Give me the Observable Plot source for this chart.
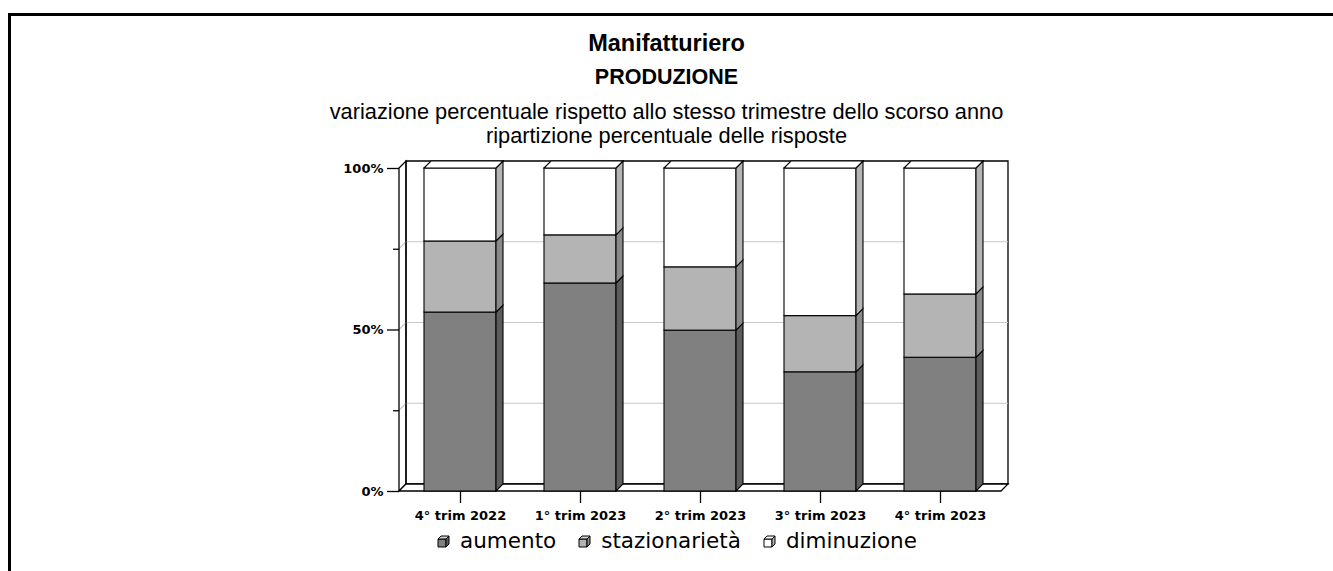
<!DOCTYPE html>
<html><head><meta charset="utf-8">
<script src="https://cdn.jsdelivr.net/npm/d3@7"></script>
<script src="https://cdn.jsdelivr.net/npm/@observablehq/plot@0.6"></script>
<style>
html,body{margin:0;padding:0;background:#fff;overflow:hidden;}
body{width:1333px;height:571px;position:relative;}
#frame{position:absolute;left:8px;top:13px;width:2000px;height:900px;border-left:3px solid #000;border-top:3px solid #000;box-sizing:border-box;}
.t{position:absolute;left:0;width:1333px;text-align:center;font-family:"Liberation Sans",Arial,sans-serif;color:#000;white-space:nowrap;}
#t1{top:29px;font-size:23.5px;line-height:28px;font-weight:bold;}
#t2{top:64px;font-size:21.5px;line-height:26px;font-weight:bold;}
#t3{top:100px;font-size:21.8px;line-height:24px;}
#t4{top:124px;font-size:21.8px;line-height:24px;}
#chart{position:absolute;left:0;top:150px;}
#legend{position:absolute;left:0;top:529px;width:1354px;display:flex;justify-content:center;align-items:center;font-family:"DejaVu Sans",sans-serif;font-size:21.5px;line-height:24px;color:#000;}
#legend .item{display:flex;align-items:center;margin:0 11px;}
#legend svg{margin-right:10px;}
</style>
</head>
<body>
<div id="frame"></div>
<div class="t" id="t1">Manifatturiero</div>
<div class="t" id="t2">PRODUZIONE</div>
<div class="t" id="t3">variazione percentuale rispetto allo stesso trimestre dello scorso anno</div>
<div class="t" id="t4">ripartizione percentuale delle risposte</div>
<div id="chart"></div>
<div id="legend"></div>
<script>
// ---- data ----
const periods = ["4° trim 2022", "1° trim 2023", "2° trim 2023", "3° trim 2023", "4° trim 2023"];
const series = ["aumento", "stazionarietà", "diminuzione"];
const aumento = [55.4, 64.4, 49.8, 36.9, 41.4];
const stazionarieta = [22.0, 14.9, 19.6, 17.4, 19.6];
const diminuzione = [22.6, 20.7, 30.6, 45.7, 39.0];
const yTicks = [0, 50, 100];
const yMinorTicks = [25, 75];
const gridValues = [25, 50, 75];
const colors = ["#808080", "#b4b4b4", "#ffffff"];
const sideColors = ["#5c5c5c", "#8a8a8a", "#b4b4b4"];

// ---- table (stacked) ----
const values = [aumento, stazionarieta, diminuzione];
const rows = [];
periods.forEach((p, i) => {
  let acc = 0;
  series.forEach((s, j) => {
    const v = values[j][i];
    rows.push({period: p, series: s, si: j, value: v, y0: acc, y1: acc + v});
    acc += v;
  });
});

const DX = 7, DY = 7;
const svgNS = "http://www.w3.org/2000/svg";
function poly(g, pts, fill, stroke, sw) {
  const el = document.createElementNS(svgNS, "polygon");
  el.setAttribute("points", pts.map(p => p.join(",")).join(" "));
  el.setAttribute("fill", fill);
  el.setAttribute("stroke", stroke);
  el.setAttribute("stroke-width", sw || 1);
  el.setAttribute("stroke-linejoin", "miter");
  g.appendChild(el);
  return el;
}
function line(g, x1, y1, x2, y2, stroke, sw) {
  const el = document.createElementNS(svgNS, "line");
  el.setAttribute("x1", x1); el.setAttribute("y1", y1);
  el.setAttribute("x2", x2); el.setAttribute("y2", y2);
  el.setAttribute("stroke", stroke);
  el.setAttribute("stroke-width", sw || 1);
  g.appendChild(el);
}

// walls + floor (3D box), drawn from scales
function walls(index, scales, vals, dim) {
  const g = document.createElementNS(svgNS, "g");
  const y = scales.y;
  const L = dim.marginLeft, R = dim.width - dim.marginRight;
  const T = y(100), B = y(0);
  poly(g, [[L + DX, T - DY], [R + DX, T - DY], [R + DX, B - DY], [L + DX, B - DY]], "#fff", "#000", 1.3);
  for (const v of gridValues) {
    line(g, L + DX, y(v) - DY, R + DX, y(v) - DY, "#c8c8c8", 1.2);
    line(g, L, y(v), L + DX, y(v) - DY, "#c8c8c8", 1.2);
  }
  poly(g, [[L, T], [L + DX, T - DY], [L + DX, B - DY], [L, B]], "none", "#000", 1.3);
  poly(g, [[L, B], [R, B], [R + DX, B - DY], [L + DX, B - DY]], "#fff", "#000", 1.3);
  return g;
}

// side and top faces of the stacked bars
function faces(index, scales, vals, dim) {
  const g = document.createElementNS(svgNS, "g");
  const x = scales.x, y = scales.y;
  const bw = x.bandwidth();
  for (const r of rows) {
    const xl = x(r.period), xr = xl + bw;
    const ya = y(r.y0), yb = y(r.y1);
    poly(g, [[xr, ya], [xr + DX, ya - DY], [xr + DX, yb - DY], [xr, yb]], sideColors[r.si], "#000", 1.1);
    if (r.si === series.length - 1) {
      poly(g, [[xl, yb], [xl + DX, yb - DY], [xr + DX, yb - DY], [xr, yb]], "#fff", "#000", 1.1);
    }
  }
  return g;
}

const chart = Plot.plot({
  width: 1333,
  height: 381,
  marginLeft: 399,
  marginRight: 332,
  marginTop: 18,
  marginBottom: 40,
  x: {domain: periods, paddingInner: 0.4, paddingOuter: 0.2, axis: null},
  y: {domain: [0, 100], axis: null},
  color: {domain: series, range: colors},
  style: {background: "transparent", color: "#000", fontFamily: "DejaVu Sans, sans-serif"},
  marks: [
    walls,
    Plot.barY(rows, {x: "period", y1: "y0", y2: "y1", fill: "series", stroke: "#000", strokeWidth: 1.1}),
    faces,
    Plot.axisY({ticks: yTicks, tickSize: 12, tickPadding: 4, tickFormat: d => d + "%", fontSize: 13, fontWeight: "bold", label: null, strokeWidth: 1.3}),
    Plot.axisY({ticks: yMinorTicks, tickSize: 6, tickFormat: () => "", label: null, strokeWidth: 1.3}),
    Plot.axisX({tickSize: 12, tickPadding: 7, fontSize: 13, fontWeight: "bold", label: null, strokeWidth: 1.3})
  ]
});
document.getElementById("chart").appendChild(chart);

// legend
const leg = document.getElementById("legend");
series.forEach((s, j) => {
  const item = document.createElement("div");
  item.className = "item";
  const ic = document.createElementNS(svgNS, "svg");
  ic.setAttribute("width", 13); ic.setAttribute("height", 13);
  poly(ic, [[1, 4], [9, 4], [9, 12], [1, 12]], colors[j], "#000", 1);
  poly(ic, [[1, 4], [4, 1], [12, 1], [9, 4]], colors[j] === "#ffffff" ? "#ffffff" : "#d0d0d0", "#000", 1);
  poly(ic, [[9, 4], [12, 1], [12, 9], [9, 12]], sideColors[j], "#000", 1);
  item.appendChild(ic);
  const tx = document.createElement("span");
  tx.textContent = s;
  item.appendChild(tx);
  leg.appendChild(item);
});
</script>
</body></html>
